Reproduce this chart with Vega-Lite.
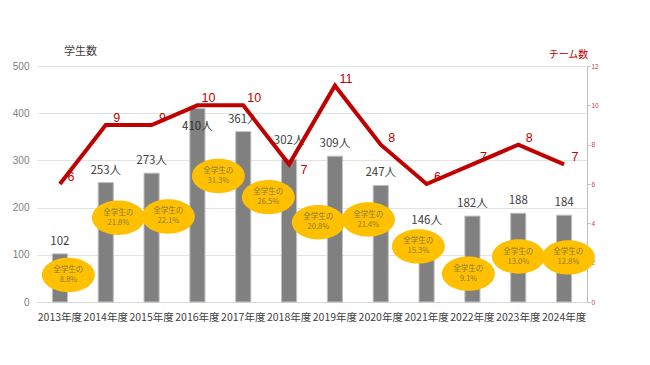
{
  "$schema": "https://vega.github.io/schema/vega-lite/v6.json",
  "autosize": {"type": "none"},
  "width": 550,
  "height": 236,
  "padding": {"left": 37, "top": 66, "right": 63, "bottom": 63},
  "background": "white",
  "config": {"view": {"stroke": null}, "font": "Noto Sans CJK JP"},
  "data": {"values": [
    {"year": "2013年度", "students": 102, "label": "102", "teams": 6, "share": 0.088},
    {"year": "2014年度", "students": 253, "label": "253人", "teams": 9, "share": 0.218},
    {"year": "2015年度", "students": 273, "label": "273人", "teams": 9, "share": 0.221},
    {"year": "2016年度", "students": 410, "label": "410人", "teams": 10, "share": 0.313},
    {"year": "2017年度", "students": 361, "label": "361人", "teams": 10, "share": 0.265},
    {"year": "2018年度", "students": 302, "label": "302人", "teams": 7, "share": 0.208},
    {"year": "2019年度", "students": 309, "label": "309人", "teams": 11, "share": 0.214},
    {"year": "2020年度", "students": 247, "label": "247人", "teams": 8, "share": 0.153},
    {"year": "2021年度", "students": 146, "label": "146人", "teams": 6, "share": 0.091},
    {"year": "2022年度", "students": 182, "label": "182人", "teams": 7, "share": 0.130},
    {"year": "2023年度", "students": 188, "label": "188", "teams": 8, "share": 0.128},
    {"year": "2024年度", "students": 184, "label": "184", "teams": 7, "share": null}
  ]},
  "resolve": {"scale": {"x": "independent", "y": "independent"}, "axis": {"x": "independent", "y": "independent"}},
  "layer": [
    {
      "encoding": {
        "x": {"field": "year", "type": "nominal", "sort": null,
          "scale": {"type": "band", "paddingInner": 0.67, "paddingOuter": 0.335},
          "axis": {"title": null, "labelAngle": 0, "labelFontSize": 10.5, "labelColor": "#404040", "labelPadding": 10, "ticks": false, "domainColor": "#d9d9d9", "labelFont": "Noto Sans CJK JP"}},
        "y": {"field": "students", "type": "quantitative",
          "scale": {"domain": [0, 500], "nice": false},
          "axis": {"title": "学生数", "titleAngle": 0, "titleX": 43, "titleY": -15, "titleAlign": "center", "titleBaseline": "middle", "titleFontSize": 11, "titleFontWeight": "normal", "titleColor": "#404040", "titleFont": "Noto Sans CJK JP",
            "values": [0, 100, 200, 300, 400, 500], "labelFontSize": 10, "labelColor": "#808080", "labelPadding": 8, "ticks": false, "domain": false, "gridColor": "#e3e3e3", "labelFont": "Liberation Sans"}}
      },
      "layer": [
        {"mark": {"type": "bar", "color": "#808080", "stroke": "#c0c0c0", "strokeWidth": 1}},
        {"transform": [{"filter": "datum.year !== '2016年度' && datum.year !== '2018年度'"}],
          "mark": {"type": "text", "dy": -12, "fontSize": 11.5, "color": "#404040", "font": "Noto Sans CJK JP"},
          "encoding": {"text": {"field": "label"}}},
        {"transform": [{"filter": "datum.year === '2018年度'"}],
          "mark": {"type": "text", "dy": -18, "fontSize": 11.5, "color": "#404040", "font": "Noto Sans CJK JP"},
          "encoding": {"text": {"field": "label"}}},
        {"transform": [{"filter": "datum.year === '2016年度'"}],
          "mark": {"type": "text", "dy": 19, "fontSize": 11.5, "color": "#303030", "font": "Noto Sans CJK JP"},
          "encoding": {"text": {"field": "label"}}}
      ]
    },
    {
      "encoding": {
        "x": {"field": "year", "type": "nominal", "sort": null,
          "scale": {"type": "band", "paddingInner": 0.67, "paddingOuter": 0.335},
          "axis": null},
        "y": {"field": "teams", "type": "quantitative",
          "scale": {"domain": [0, 12], "nice": false},
          "axis": {"orient": "right", "title": "チーム数", "titleAngle": 0, "titleX": -19, "titleY": -12, "titleAlign": "center", "titleBaseline": "middle", "titleFontSize": 10, "titleFontWeight": "normal", "titleColor": "#c00000", "titleFont": "Noto Sans CJK JP",
            "values": [0, 2, 4, 6, 8, 10, 12], "labelFontSize": 6.5, "labelColor": "#d04040", "labelPadding": 1, "tickSize": 3, "tickColor": "#bfbfbf", "domainColor": "#bfbfbf", "grid": false, "labelFont": "Liberation Sans"}}
      },
      "layer": [
        {"mark": {"type": "line", "color": "#c00000", "strokeWidth": 4}},
        {"transform": [{"filter": "datum.year !== '2018年度'"}],
          "mark": {"type": "text", "dx": 11, "dy": -7, "fontSize": 12.5, "color": "#c00000", "font": "Liberation Sans"},
          "encoding": {"text": {"field": "teams"}}},
        {"transform": [{"filter": "datum.year === '2018年度'"}],
          "mark": {"type": "text", "dx": 15, "dy": 6, "fontSize": 12.5, "color": "#c00000", "font": "Liberation Sans"},
          "encoding": {"text": {"field": "teams"}}}
      ]
    },
    {
      "transform": [{"filter": "isValid(datum.share)"}],
      "encoding": {
        "x": {"field": "year", "type": "nominal", "sort": null,
          "scale": {"type": "point", "paddingOuter": 0.6, "align": 0.627},
          "axis": null},
        "y": {"field": "share", "type": "quantitative",
          "scale": {"domain": [0.0266, 0.563], "nice": false, "zero": false},
          "axis": null}
      },
      "layer": [
        {"mark": {"type": "point", "filled": true, "color": "#ffc000", "opacity": 1, "size": 2800,
          "shape": "M-1,0 A1,0.65 0 1,1 1,0 A1,0.65 0 1,1 -1,0 Z"}},
        {"mark": {"type": "text", "dy": -5, "fontSize": 7.5, "color": "#8c7a3c", "font": "Noto Sans CJK JP"},
          "encoding": {"text": {"value": "全学生の"}}},
        {"mark": {"type": "text", "dy": 5, "fontSize": 7.5, "color": "#8c7a3c", "font": "Noto Sans CJK JP"},
          "encoding": {"text": {"field": "share", "format": ".1%"}}}
      ]
    }
  ]
}
